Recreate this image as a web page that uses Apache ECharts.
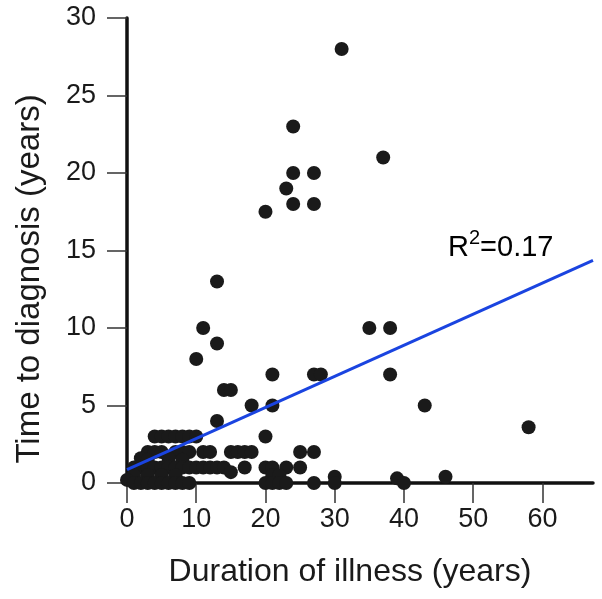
<!DOCTYPE html>
<html>
<head>
<meta charset="utf-8">
<script src="https://cdn.jsdelivr.net/npm/echarts@6/dist/echarts.min.js"></script>
<style>
  html, body { margin: 0; padding: 0; background: #fff; }
  #chart { width: 602px; height: 599px; }
</style>
</head>
<body>
<div id="chart"></div>
<script>
// duration of illness (years)
var duration = [
  31, 24, 37, 24, 27, 23, 24, 27, 20,
  13, 11, 35, 38, 13, 10, 21, 27, 28, 38, 14, 15,
  18, 21, 43, 13, 58, 20,
  4, 5, 6, 7, 8, 9, 10,
  3, 4, 5, 7, 8, 9, 11, 12, 15, 16, 17, 18, 25, 27,
  2, 3, 6, 8,
  1, 2, 3, 4, 5, 6, 7, 8, 9, 10, 11, 12, 13, 14, 17, 20, 21, 23, 25, 15,
  21, 22, 30, 39, 46, 1, 3, 5, 7,
  0, 1, 2, 3, 4, 5, 6, 7, 8, 9, 20, 21, 22, 23, 27, 30, 40
]
// time to diagnosis (years)
var timeToDiagnosis = [
  28, 23, 21, 20, 20, 19, 18, 18, 17.5,
  13, 10, 10, 10, 9, 8, 7, 7, 7, 7, 6, 6,
  5, 5, 5, 4, 3.6, 3,
  3, 3, 3, 3, 3, 3, 3,
  2, 2, 2, 2, 2, 2, 2, 2, 2, 2, 2, 2, 2, 2,
  1.6, 1.5, 1.6, 1.5,
  1, 1, 1, 1, 1, 1, 1, 1, 1, 1, 1, 1, 1, 1, 1, 1, 1, 1, 1, 0.7,
  0.5, 0.5, 0.4, 0.3, 0.4, 0.5, 0.5, 0.5, 0.5,
  0.2, 0, 0, 0, 0, 0, 0, 0, 0, 0, 0, 0, 0, 0, 0, 0, 0
]
// regression line end points
var fitX = [0, 67.3]
var fitY = [0.86, 14.37]

var xTicks = [0, 10, 20, 30, 40, 50, 60]
var yTicks = [0, 5, 10, 15, 20, 25, 30]

var points = duration.map(function (d, i) { return [d, timeToDiagnosis[i]] })
var fitLine = fitX.map(function (d, i) { return [d, fitY[i]] })

var font = 'Liberation Sans, Arial, sans-serif'
var chart = echarts.init(document.getElementById('chart'))
chart.setOption({
  backgroundColor: '#fff',
  animation: false,
  grid: {
    left: 127,
    right: 9,
    top: 18,
    bottom: 116
  },
  xAxis: {
    type: 'value',
    min: 0,
    max: 67.3,
    interval: 10,
    axisLine: { show: true, onZero: false, lineStyle: { color: '#111', width: 3.5 } },
    axisTick: { show: true, length: 20, lineStyle: { color: '#333', width: 1.5 } },
    splitLine: { show: false },
    axisLabel: {
      margin: 23,
      fontSize: 27,
      fontFamily: font,
      color: '#1a1a1a',
      showMaxLabel: false,
      formatter: function (v) { return xTicks.indexOf(v) >= 0 ? v : '' }
    }
  },
  yAxis: {
    type: 'value',
    min: 0,
    max: 30,
    interval: 5,
    axisLine: { show: true, onZero: false, lineStyle: { color: '#111', width: 3.5 } },
    axisTick: { show: true, length: 20, lineStyle: { color: '#333', width: 1.5 } },
    splitLine: { show: false },
    axisLabel: {
      margin: 31,
      fontSize: 27,
      fontFamily: font,
      color: '#1a1a1a',
      formatter: function (v) { return yTicks.indexOf(v) >= 0 ? v : '' }
    }
  },
  graphic: [
    {
      type: 'text',
      x: 30,
      y: 279,
      rotation: Math.PI / 2,
      style: {
        text: 'Time to diagnosis (years)',
        font: '33px ' + font,
        fill: '#1a1a1a',
        textAlign: 'center',
        textVerticalAlign: 'middle'
      }
    },
    {
      type: 'text',
      x: 350,
      y: 572,
      style: {
        text: 'Duration of illness (years)',
        font: '32px ' + font,
        fill: '#1a1a1a',
        textAlign: 'center',
        textVerticalAlign: 'middle'
      }
    },
    {
      type: 'text',
      x: 448,
      y: 245,
      style: {
        text: '{r|R}{s|2}{r|=0.17}',
        textVerticalAlign: 'middle',
        rich: {
          r: { fontSize: 29, fontFamily: font, color: '#1a1a1a', verticalAlign: 'bottom' },
          s: { fontSize: 20, fontFamily: font, color: '#1a1a1a', verticalAlign: 'top', padding: [0, 0, 14, 0] }
        }
      }
    }
  ],
  series: [
    {
      type: 'line',
      data: fitLine,
      symbol: 'none',
      lineStyle: { color: '#1a44e0', width: 3 },
      z: 3
    },
    {
      type: 'scatter',
      data: points,
      symbol: 'circle',
      symbolSize: 14,
      itemStyle: { color: '#1a1a1a', opacity: 1 },
      z: 2
    }
  ]
})
</script>
</body>
</html>
